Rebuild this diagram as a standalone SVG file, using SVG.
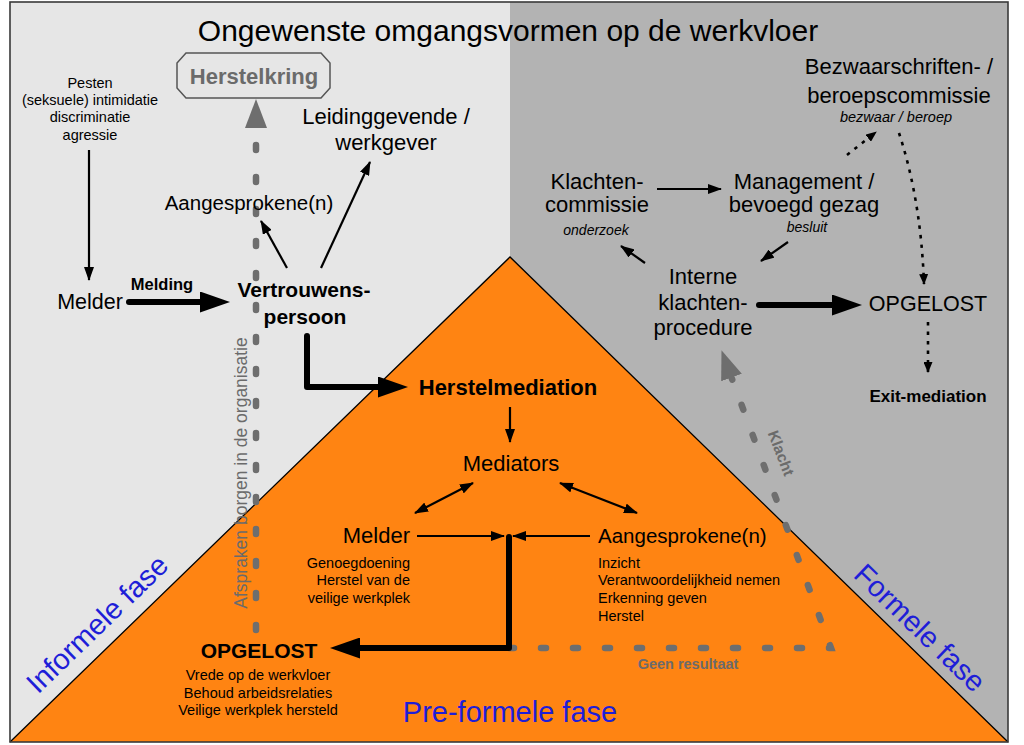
<svg xmlns="http://www.w3.org/2000/svg" width="1024" height="745" viewBox="0 0 1024 745">
<defs>
<style>
text{font-family:"Liberation Sans",Arial,Helvetica,sans-serif;fill:#000}
.b{font-weight:bold}
.i{font-style:italic}
.m{text-anchor:middle}
.e{text-anchor:end}
.f22{font-size:22px}
.f21{font-size:21px}
.f14{font-size:14.5px}
.f13{font-size:14px}
.gray{fill:#6b6b6b}
.blue{fill:#1e1ed8;font-size:29px}
.ln{fill:none;stroke:#000;stroke-width:2.2}
.thick{fill:none;stroke:#000;stroke-width:6;stroke-linecap:round;stroke-linejoin:round}
.dot{fill:none;stroke:#000;stroke-width:2.6;stroke-dasharray:3.5 6}
.gd{fill:none;stroke:#6e6e6e;stroke-width:6.5;stroke-linecap:round;stroke-dasharray:5 27}
</style>
<marker id="ah" markerUnits="userSpaceOnUse" viewBox="0 0 14 10" refX="13" refY="5" markerWidth="14" markerHeight="10" orient="auto-start-reverse"><path d="M0,0 L14,5 L0,10 z" fill="#000"/></marker>
<marker id="big" markerUnits="userSpaceOnUse" viewBox="0 0 30 21" refX="8" refY="10.5" markerWidth="30" markerHeight="21" orient="auto"><path d="M0,0 L30,10.5 L0,21 z" fill="#000"/></marker>
<marker id="dh" markerUnits="userSpaceOnUse" viewBox="0 0 11 9" refX="10" refY="4.5" markerWidth="11" markerHeight="9" orient="auto"><path d="M0,0 L11,4.5 L0,9 z" fill="#000"/></marker>
<marker id="gh" markerUnits="userSpaceOnUse" viewBox="0 0 29 22" refX="0" refY="11" markerWidth="29" markerHeight="22" orient="auto"><path d="M0,0 L29,11 L0,22 z" fill="#6e6e6e"/></marker>
</defs>

<g id="background">
<rect x="10" y="2" width="500" height="740" fill="#e6e6e6"/>
<rect x="510" y="2" width="498" height="740" fill="#b3b3b3"/>
<path d="M510,257 L1008,742 L10,742 Z" fill="#ff8412"/>
<path d="M10,742 L510,257 L1008,742" fill="none" stroke="#000" stroke-width="1.3"/>
<rect x="10" y="2" width="998" height="740" fill="none" stroke="#3a3a3a" stroke-width="1.6"/>
</g>

<g id="phases">
<text class="blue m" transform="translate(104,631) rotate(-44)">Informele fase</text>
<text class="blue m" transform="translate(913,635) rotate(44)">Formele fase</text>
<text class="blue m" x="510" y="722">Pre-formele fase</text>
</g>

<g id="title"><text class="m" x="508" y="41" font-size="30">Ongewenste omgangsvormen op de werkvloer</text></g>

<g id="connectors">
<path class="gd" d="M256,630 V128" marker-end="url(#gh)"/>
<path class="gd" d="M509,648 H831 L731.5,377.5" marker-end="url(#gh)"/>
<path class="ln" d="M89,150 V280" marker-end="url(#ah)"/>
<path class="thick" d="M129,302 H208" marker-end="url(#big)"/>
<path class="ln" d="M287,268 L261,221" marker-end="url(#ah)"/>
<path class="ln" d="M321,268 L370,162" marker-end="url(#ah)"/>
<path class="thick" d="M307,336 V387 H386" marker-end="url(#big)"/>
<path class="ln" d="M510,407 V442" marker-end="url(#ah)"/>
<path class="ln" d="M415,513 L473,483" marker-start="url(#ah)" marker-end="url(#ah)"/>
<path class="ln" d="M560,483 L637,513" marker-start="url(#ah)" marker-end="url(#ah)"/>
<path class="ln" d="M417,536 H504" marker-end="url(#ah)"/>
<path class="ln" d="M590,536 H513" marker-end="url(#ah)"/>
<path class="thick" d="M509,537 V648 H352" stroke-linecap="butt" marker-end="url(#big)"/>
<path class="ln" d="M657,189 H721" marker-end="url(#ah)"/>
<path class="ln" d="M788,242 L761,261" marker-end="url(#ah)"/>
<path class="ln" d="M645,263 L621,246" marker-end="url(#ah)"/>
<path class="thick" d="M759,305 H840" marker-end="url(#big)"/>
<path class="dot" d="M847,155 L876,132" marker-end="url(#dh)"/>
<path class="dot" d="M899,133 Q921,200 924,284" marker-end="url(#dh)"/>
<path class="dot" d="M928,322 V372" marker-end="url(#dh)"/>
<text class="b" x="162" y="290" font-size="16.5" text-anchor="middle">Melding</text>
<text class="gray" transform="translate(247,473) rotate(-90)" font-size="17.5" text-anchor="middle">Afspraken borgen in de organisatie</text>
<text class="gray b" transform="translate(776,455) rotate(69)" font-size="15.5" text-anchor="middle">Klacht</text>
<text class="gray b m" x="688" y="669" font-size="14.5">Geen resultaat</text>
</g>

<g id="herstelkring">
<path d="M186,53 H321 L330,63 V88 L321,98 H186 L177,88 V63 Z" fill="#e6e6e6" stroke="#555" stroke-width="1.5"/>
<text class="b m gray f22" x="254" y="84">Herstelkring</text>
</g>

<g id="ongewenst">
<text class="m f14" x="90" y="88">Pesten</text>
<text class="m f14" x="90" y="105">(seksuele) intimidatie</text>
<text class="m f14" x="90" y="122">discriminatie</text>
<text class="m f14" x="90" y="140">agressie</text>
</g>

<g id="melder-links"><text class="m" x="90" y="309" font-size="21.5">Melder</text></g>

<g id="vertrouwenspersoon">
<text class="m b f21" x="304" y="297">Vertrouwens-</text>
<text class="m b f21" x="305" y="324">persoon</text>
</g>

<g id="aangesprokene-boven"><text class="m" x="249" y="210" font-size="20.5">Aangesprokene(n)</text></g>

<g id="leidinggevende">
<text class="m f22" x="386" y="124">Leidinggevende /</text>
<text class="m f22" x="386" y="150">werkgever</text>
</g>

<g id="herstelmediation"><text class="m b f22" x="508" y="395">Herstelmediation</text></g>

<g id="mediators"><text class="m f22" x="511" y="471">Mediators</text></g>

<g id="melder-midden">
<text class="e f22" x="410" y="543">Melder</text>
<text class="e f14" x="410" y="568">Genoegdoening</text>
<text class="e f14" x="410" y="585">Herstel van de</text>
<text class="e f14" x="410" y="603">veilige werkplek</text>
</g>

<g id="aangesprokene-midden">
<text x="598" y="543" font-size="20.5">Aangesprokene(n)</text>
<text class="f14" x="598" y="568">Inzicht</text>
<text class="f14" x="598" y="585">Verantwoordelijkheid nemen</text>
<text class="f14" x="598" y="603">Erkenning geven</text>
<text class="f14" x="598" y="621">Herstel</text>
</g>

<g id="opgelost-links">
<text class="m b f21" x="259" y="658">OPGELOST</text>
<text class="m f14" x="258" y="680">Vrede op de werkvloer</text>
<text class="m f14" x="258" y="698">Behoud arbeidsrelaties</text>
<text class="m f14" x="258" y="715">Veilige werkplek hersteld</text>
</g>

<g id="bezwaar">
<text class="m f22" x="899" y="74">Bezwaarschriften- /</text>
<text class="m f22" x="899" y="103">beroepscommissie</text>
<text class="m i" x="896" y="122" font-size="14.5">bezwaar / beroep</text>
</g>

<g id="klachtencommissie">
<text class="m f22" x="597" y="189">Klachten-</text>
<text class="m f22" x="597" y="212">commissie</text>
<text class="m i f13" x="596" y="235">onderzoek</text>
</g>

<g id="management">
<text class="m f22" x="804" y="189">Management /</text>
<text class="m f22" x="804" y="212">bevoegd gezag</text>
<text class="m i f13" x="807" y="232">besluit</text>
</g>

<g id="interne-klachtenprocedure">
<text class="m f22" x="703" y="284">Interne</text>
<text class="m f22" x="703" y="310">klachten-</text>
<text class="m f22" x="703" y="335">procedure</text>
</g>

<g id="opgelost-rechts"><text class="m" x="928" y="311" font-size="21.5">OPGELOST</text></g>

<g id="exit-mediation"><text class="m b" x="928" y="402" font-size="17">Exit-mediation</text></g>
</svg>
